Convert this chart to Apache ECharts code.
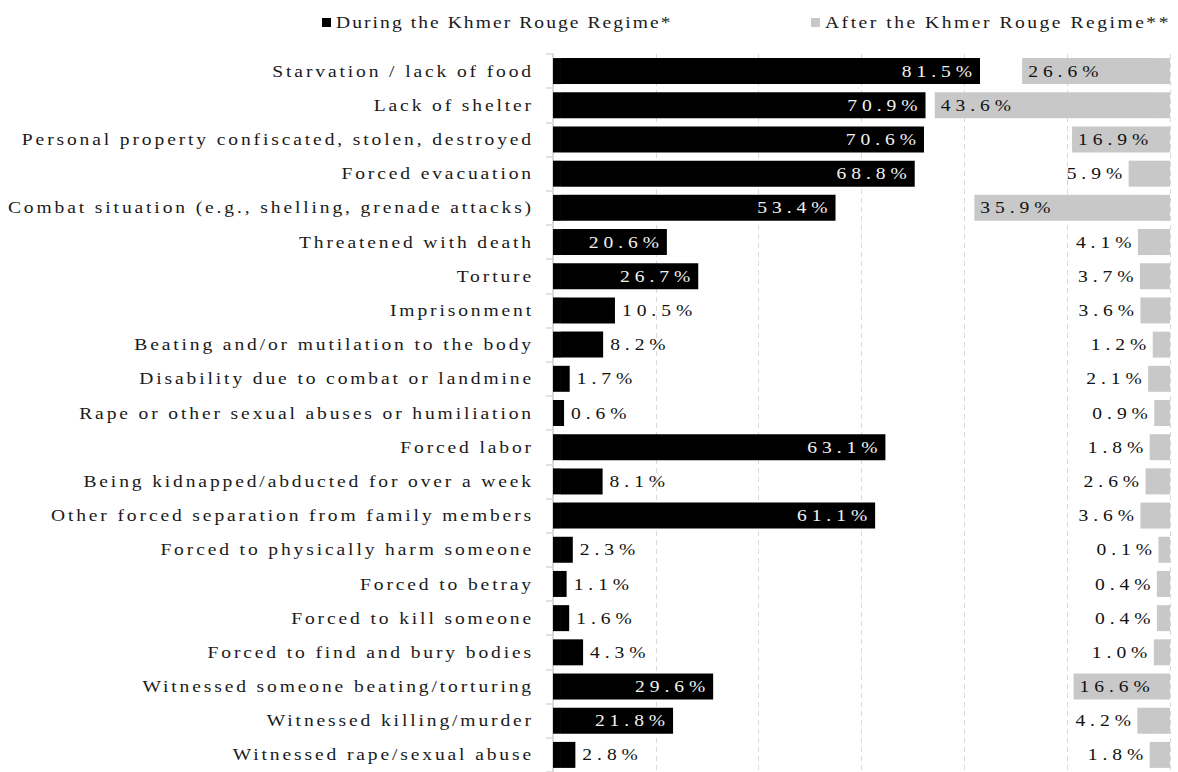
<!DOCTYPE html>
<html>
<head>
<meta charset="utf-8">
<script src="https://cdn.jsdelivr.net/npm/echarts@6/dist/echarts.min.js"></script>
<style>
  html, body { margin: 0; padding: 0; background: #fff; }
  #main { width: 1178px; height: 772px; }
</style>
</head>
<body>
<div id="main"></div>
<script>
// ---- data ----
const categories = [
  "Starvation / lack of food",
  "Lack of shelter",
  "Personal property confiscated, stolen, destroyed",
  "Forced evacuation",
  "Combat situation (e.g., shelling, grenade attacks)",
  "Threatened with death",
  "Torture",
  "Imprisonment",
  "Beating and/or mutilation to the body",
  "Disability due to combat or landmine",
  "Rape or other sexual abuses or humiliation",
  "Forced labor",
  "Being kidnapped/abducted for over a week",
  "Other forced separation from family members",
  "Forced to physically harm someone",
  "Forced to betray",
  "Forced to kill someone",
  "Forced to find and bury bodies",
  "Witnessed someone beating/torturing",
  "Witnessed killing/murder",
  "Witnessed rape/sexual abuse"
];
const duringKR = [81.5, 70.9, 70.6, 68.8, 53.4, 20.6, 26.7, 10.5, 8.2, 1.7, 0.6, 63.1, 8.1, 61.1, 2.3, 1.1, 1.6, 4.3, 29.6, 21.8, 2.8];
const afterKR  = [26.6, 43.6, 16.9, 5.9, 35.9, 4.1, 3.7, 3.6, 1.2, 2.1, 0.9, 1.8, 2.6, 3.6, 0.1, 0.4, 0.4, 1.0, 16.6, 4.2, 1.8];
const seriesNames = ["During the Khmer Rouge Regime*", "After the Khmer Rouge Regime**"];
const axisMax = 120;
const axisStep = 20;

// ---- style constants ----
const FONT = "'Liberation Serif', 'Times New Roman', serif";
const BLACK = '#000000';
const GRAY = '#c8c8c9';
const BLACK_PAD = 1.55;   // visual base of black bars (axis units)
const GRAY_PAD = 2.15;    // visual base of gray bars (axis units)
const INSIDE_MIN_DURING = 15;
const INSIDE_MIN_AFTER = 10;
const TEXT_SPACING = '2.5px';
const VALUE_SPACING = '4.3px';
const LEGEND_SPACING = ['1.8px', '2.2px'];
const TEXT_SX = 1.15;     // horizontal widening of glyphs (Garamond-like)

const fmt = p => Number(p.value).toFixed(1) + '%';

const duringData = duringKR.map(v => ({
  value: v,
  label: v >= INSIDE_MIN_DURING
    ? { position: 'insideRight', distance: 3, color: '#f2f2f2' }
    : { position: 'right', distance: 7, color: '#111' }
}));
const afterData = afterKR.map(v => ({
  value: v,
  label: v >= INSIDE_MIN_AFTER
    ? { position: 'insideLeft', distance: 6, color: '#111' }
    : { position: 'left', distance: 1.5, color: '#111' }
}));

const chart = echarts.init(document.getElementById('main'), null, { renderer: 'svg' });
const barCommon = { barWidth: 26, barGap: '-100%', silent: true, emphasis: { disabled: true } };
const labelCommon = { show: true, formatter: fmt, fontFamily: FONT, fontSize: 17 };
const legendText = { fontFamily: FONT, fontSize: 17, color: '#1a1a1a' };

chart.setOption({
  animation: false,
  backgroundColor: '#ffffff',
  textStyle: { fontFamily: FONT },
  legend: [
    { data: [seriesNames[0]], left: 317, top: 9, icon: 'rect', itemWidth: 9, itemHeight: 9,
      textStyle: legendText, selectedMode: false },
    { data: [seriesNames[1]], left: 806, top: 9, icon: 'rect', itemWidth: 9, itemHeight: 9,
      textStyle: legendText, selectedMode: false }
  ],
  grid: { left: 553, top: 54, width: 617, height: 721, containLabel: false },
  xAxis: [
    {
      type: 'value', min: 0, max: axisMax, interval: axisStep,
      axisLine: { show: false }, axisTick: { show: false }, axisLabel: { show: false },
      splitLine: { show: true, lineStyle: { color: '#d9d9d9', width: 1, type: [5, 4] } }
    },
    {
      type: 'value', min: 0, max: axisMax, inverse: true, show: false,
      splitLine: { show: false }
    }
  ],
  yAxis: {
    type: 'category', data: categories, inverse: true,
    axisLine: { show: true, lineStyle: { color: '#d9d9d9', width: 2 } },
    axisTick: { show: true, length: 7, lineStyle: { color: '#d9d9d9', width: 1.5 } },
    axisLabel: { margin: 19, fontFamily: FONT, fontSize: 17, color: '#1a1a1a' }
  },
  series: [
    Object.assign({
      name: 'padDuring', type: 'bar', stack: 'during', xAxisIndex: 0,
      data: categories.map(() => BLACK_PAD), itemStyle: { color: BLACK }, label: { show: false }
    }, barCommon),
    Object.assign({
      name: seriesNames[0], type: 'bar', stack: 'during', xAxisIndex: 0,
      data: duringData, itemStyle: { color: BLACK }, label: labelCommon
    }, barCommon),
    Object.assign({
      name: 'padAfter', type: 'bar', stack: 'after', xAxisIndex: 1,
      data: categories.map(() => GRAY_PAD), itemStyle: { color: GRAY }, label: { show: false }
    }, barCommon),
    Object.assign({
      name: seriesNames[1], type: 'bar', stack: 'after', xAxisIndex: 1,
      data: afterData, itemStyle: { color: GRAY }, label: labelCommon
    }, barCommon)
  ]
});

// Typographic tuning of the rendered SVG text (tracking + slight widening around each anchor)
function styleTexts() {
  document.querySelectorAll('#main text').forEach(t => {
    const txt = t.textContent.trim();
    const li = seriesNames.indexOf(txt);
    t.style.letterSpacing = li >= 0 ? LEGEND_SPACING[li]
      : (/%$/.test(txt) ? VALUE_SPACING : TEXT_SPACING);
    const cur = t.getAttribute('transform') || '';
    if (t.dataset.sx && t.dataset.sx === cur) return;
    const ax = parseFloat(t.getAttribute('x')) || 0;
    const nt = (cur + ' translate(' + ax + ',0) scale(' + TEXT_SX + ',1) translate(' + (-ax) + ',0)').trim();
    t.setAttribute('transform', nt);
    t.dataset.sx = nt;
  });
}
styleTexts();
chart.on('finished', styleTexts);
</script>
</body>
</html>
